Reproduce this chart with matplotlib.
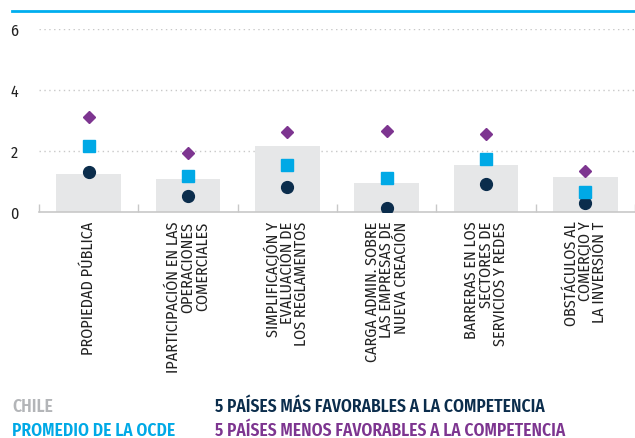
import matplotlib
matplotlib.use("Agg")
import matplotlib.pyplot as plt
from matplotlib.lines import Line2D
import numpy as np

# --- Daten ---
categorias = [
    "PROPIEDAD PÚBLICA",
    "IPARTICIPACIÓN EN LAS\nOPERACIONES\nCOMERCIALES",
    "SIMPLIFICACIÓN Y\nEVALUACIÓN DE\nLOS REGLAMENTOS",
    "CARGA ADMIN. SOBRE\nLAS EMPRESAS DE\nNUEVA CREACIÓN",
    "BARRERAS EN LOS\nSECTORES DE\nSERVICIOS Y REDES",
    "OBSTÁCULOS AL\nCOMERCIO Y\nLA INVERSIÓN T",
]
chile = [1.25, 1.08, 2.17, 0.96, 1.54, 1.15]
ocde = [2.15, 1.17, 1.55, 1.13, 1.73, 0.65]
mas_favorables = [1.30, 0.53, 0.82, 0.12, 0.91, 0.30]
menos_favorables = [3.10, 1.92, 2.63, 2.67, 2.57, 1.35]

c_chile = "#e6e7e8"
c_chile_txt = "#b3b5b8"
c_ocde = "#00a9e6"
c_mas = "#0b2d4c"
c_menos = "#7d3590"

plt.rcParams["font.family"] = ["Fira Sans Condensed", "DejaVu Sans"]

fig = plt.figure(figsize=(6.35, 4.39), dpi=100)
W, H = 635, 439
ax = fig.add_axes([39 / W, 1 - 213 / H, (635 - 39) / W, (213 - 30) / H])

x = np.arange(len(categorias))
ax.bar(x, chile, width=0.65, color=c_chile, zorder=1)
ax.plot(x, mas_favorables, "o", color=c_mas, markersize=8.5, zorder=3)
ax.plot(x, ocde, "s", color=c_ocde, markersize=8, zorder=3)
ax.plot(x, menos_favorables, "D", color=c_menos, markersize=6.5, zorder=3)

ax.set_xlim(-0.5, 5.37)
ax.set_ylim(0, 6)
ax.set_yticks([0, 2, 4, 6])
ax.set_yticklabels(["0", "2", "4", "6"], fontsize=11.5, color="#222222")
ax.tick_params(axis="y", length=0, pad=15)
for yv in [2, 4, 6]:
    ax.axhline(yv, color="#c8c8c8", linestyle=(0, (1, 2.5)), linewidth=1, zorder=0)

# separadores de categorías
ax.set_xticks(x)
ax.set_xticklabels([])
ax.tick_params(axis="x", length=0)
ax.set_xticks(np.arange(-0.5, len(categorias), 1), minor=True)
ax.tick_params(axis="x", which="minor", direction="in", length=6, color="#c8c8c8", width=1)

for s in ["top", "right", "left"]:
    ax.spines[s].set_visible(False)
ax.spines["bottom"].set_color("#c8c8c8")
ax.spines["bottom"].set_linewidth(1.2)

for xi, lab in zip(x, categorias):
    ax.text(xi, -0.28, lab, rotation=90, ha="center", va="top", multialignment="right",
            fontsize=11.6, color="#222222", linespacing=0.88, clip_on=False)

# línea azul superior
fig.add_artist(Line2D([12 / W, 1], [1 - 12 / H, 1 - 12 / H], color="#00aeef", linewidth=2))

# leyenda
ley = [
    ("CHILE", c_chile_txt, 12, 407),
    ("PROMEDIO DE LA OCDE", c_ocde, 12, 431),
    ("5 PAÍSES MÁS FAVORABLES A LA COMPETENCIA", c_mas, 215, 407),
    ("5 PAÍSES MENOS FAVORABLES A LA COMPETENCIA", c_menos, 215, 431),
]
for txt, col, px, py in ley:
    fig.text(px / W, 1 - py / H, txt, color=col, fontsize=12.5, fontweight="semibold",
             ha="left", va="center")

fig.savefig("out.png", dpi=100)
